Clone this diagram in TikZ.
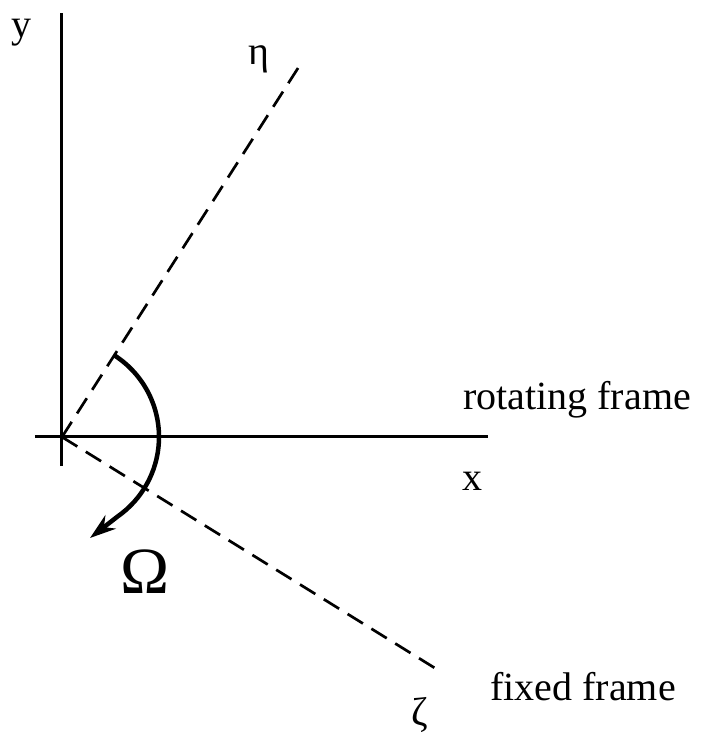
\documentclass[tikz,border=0pt]{standalone}
\usepackage{fontspec}
\setmainfont{Liberation Serif}
\usepackage{tikz}
\usetikzlibrary{arrows.meta, positioning}

\begin{document}
\begin{tikzpicture}[
        x=1pt, y=1pt,
        every node/.style={font=\fontsize{40}{48}\selectfont, inner sep=0pt, anchor=base},
        axis/.style={draw, line width=3pt},
        frameline/.style={draw, line width=2.7pt, dash pattern=on 18pt off 10pt},
        spin/.style={draw, line width=4.5pt, -{Stealth[length=26pt, width=17pt]}},
        biglabel/.style={font=\fontsize{66}{72}\selectfont}
    ]
    \useasboundingbox (-62,-299) rectangle (640,437);

    % Axes
    \coordinate (O) at (0,0);
    \coordinate (Ytop) at (0,424);
    \coordinate (Ybot) at (0,-29);
    \coordinate (Xleft) at (-27,0);
    \coordinate (Xright) at (426,0);
    \draw [axis] (Ybot) -- (Ytop);
    \draw [axis] (Xleft) -- (Xright);

    % Frames
    \coordinate (EtaEnd) at (238,372);
    \coordinate (ZetaEnd) at (376,-233);
    \draw [frameline] (O) -- (EtaEnd);
    \draw [frameline] (O) -- (ZetaEnd);

    % Rotation
    \coordinate (SpinStart) at (57:97);
    \coordinate (SpinTip) at (28,-101);
    \draw [spin] (SpinStart) arc[start angle=57, end angle=-55, radius=97] -- (SpinTip);

    % Labels
    \node (ylabel) at (-40,399) {y};
    \node (xlabel) at (410,-53) {x};
    \node (etalabel) at (197,372) {η};
    \node (zetalabel) at (358,-288) {ζ};
    \node (rotating) at (515,27) {rotating frame};
    \node (fixed) at (521,-263) {fixed frame};
    \node (omega) [biglabel] at (83,-156) {Ω};
\end{tikzpicture}
\end{document}
